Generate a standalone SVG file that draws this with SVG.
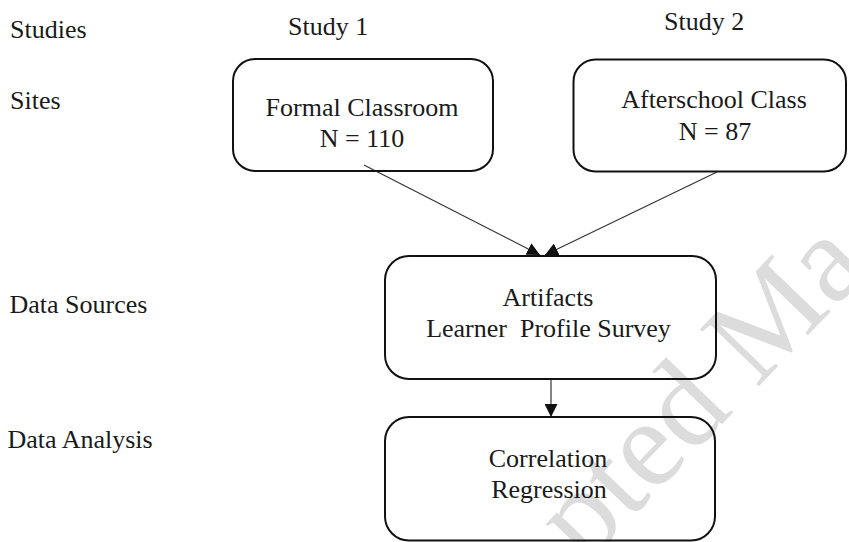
<svg xmlns="http://www.w3.org/2000/svg" width="849" height="542" viewBox="0 0 849 542">
  <style>
    .t { font-family: "Liberation Serif", "Times New Roman", serif; font-size: 26px; fill: #1a1a1a; }
    .c { text-anchor: middle; }
    .box { fill: none; stroke: #111; stroke-width: 2; }
    .edge { fill: none; stroke: #333; stroke-width: 1.2; }
    .wm { font-family: "Liberation Serif", "Times New Roman", serif; font-size: 125px; fill: #dcdcdc; }
  </style>
  <defs>
    <marker id="arr" markerWidth="14" markerHeight="13" refX="13" refY="6.5" orient="auto" markerUnits="userSpaceOnUse">
      <path d="M0,0 L13,6.5 L0,13 Z" fill="#111"/>
    </marker>
  </defs>
  <rect width="849" height="542" fill="#fff"/>
  <g id="watermark">
    <text class="wm" transform="translate(585,566) rotate(-46)">pted Ma</text>
  </g>
  <g id="labels">
    <text class="t" x="10" y="37.5">Studies</text>
    <text class="t" x="10" y="109">Sites</text>
    <text class="t" x="9.5" y="313">Data Sources</text>
    <text class="t" x="7.5" y="448">Data Analysis</text>
    <text class="t" x="288" y="35">Study 1</text>
    <text class="t" x="664" y="30">Study 2</text>
  </g>
  <g id="connectors">
    <line class="edge" x1="364" y1="165" x2="540" y2="255" marker-end="url(#arr)"/>
    <line class="edge" x1="717" y1="172" x2="545" y2="255" marker-end="url(#arr)"/>
    <line class="edge" x1="551" y1="379" x2="551" y2="417" marker-end="url(#arr)"/>
  </g>
  <g id="formal">
    <rect class="box" x="233" y="59" width="260" height="112" rx="22"/>
    <text class="t c" x="362" y="115.7">Formal Classroom</text>
    <text class="t c" x="362" y="147">N = 110</text>
  </g>
  <g id="afterschool">
    <rect class="box" x="573.5" y="59.5" width="272.5" height="112" rx="22"/>
    <text class="t c" x="714" y="108.3">Afterschool Class</text>
    <text class="t c" x="715" y="140">N = 87</text>
  </g>
  <g id="datasources">
    <rect class="box" x="385" y="256" width="331" height="123" rx="24"/>
    <text class="t c" x="548" y="306">Artifacts</text>
    <text class="t c" x="548.5" y="336.7" xml:space="preserve">Learner  Profile Survey</text>
  </g>
  <g id="analysis">
    <rect class="box" x="385" y="417" width="330" height="123.5" rx="24"/>
    <text class="t c" x="548" y="466.7">Correlation</text>
    <text class="t c" x="549" y="498">Regression</text>
  </g>
</svg>
